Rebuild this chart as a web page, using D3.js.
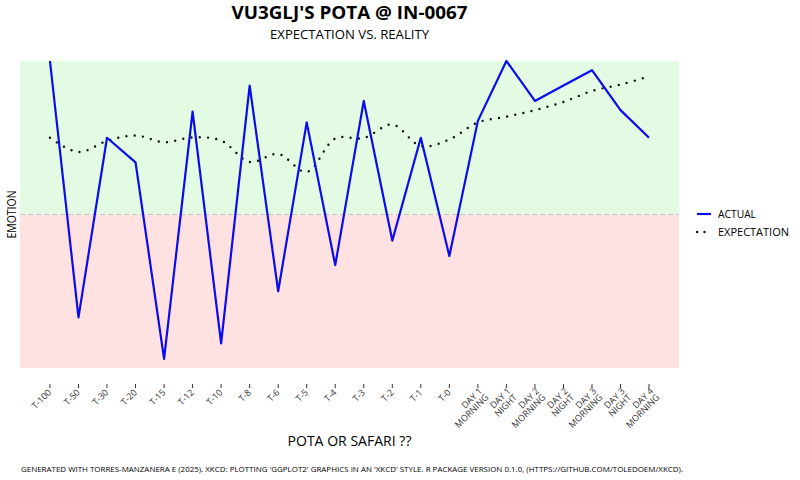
<!DOCTYPE html>
<html>
<head>
<meta charset="utf-8">
<script src="https://cdn.jsdelivr.net/npm/d3@7"></script>
<style>
  html, body { margin: 0; padding: 0; background: #ffffff; }
  svg { display: block; font-family: "Open Sans", "DejaVu Sans", sans-serif; }
</style>
</head>
<body>
<svg id="chart" width="800" height="480"></svg>
<script>
// ---- data ----
const categories = ["T-100","T-50","T-30","T-20","T-15","T-12","T-10","T-8","T-6","T-5","T-4","T-3","T-2","T-1","T-0",
  "DAY 1 MORNING","DAY 1 NIGHT","DAY 2 MORNING","DAY 2 NIGHT","DAY 3 MORNING","DAY 3 NIGHT","DAY 4 MORNING"];
const tickLabels = [["T-100"],["T-50"],["T-30"],["T-20"],["T-15"],["T-12"],["T-10"],["T-8"],["T-6"],["T-5"],["T-4"],["T-3"],["T-2"],["T-1"],["T-0"],
  ["DAY 1","MORNING"],["DAY 1","NIGHT"],["DAY 2","MORNING"],["DAY 2","NIGHT"],["DAY 3","MORNING"],["DAY 3","NIGHT"],["DAY 4","MORNING"]];
const actual = [10, -6.7, 5.0, 3.4, -9.4, 6.7, -8.4, 8.4, -5.0, 6.0, -3.3, 7.4, -1.7, 5.0, -2.7, 6.1, 10, 7.4, 8.4, 9.4, 6.8, 5.0];
const expectation = [5.0, 4.07, 4.79, 5.15, 4.71, 5.02, 4.82, 3.42, 3.94, 2.77, 4.95, 4.98, 5.86, 4.46, 4.89, 6.0, 6.37, 6.8, 7.33, 8.05, 8.46, 9.0];
const yDomain = [-10, 10];
const seriesNames = ["ACTUAL", "EXPECTATION"];
const title = "VU3GLJ'S POTA @ IN-0067";
const subtitle = "EXPECTATION VS. REALITY";
const xTitle = "POTA OR SAFARI ??";
const yTitle = "EMOTION";
const caption = "GENERATED WITH TORRES-MANZANERA E (2025). XKCD: PLOTTING 'GGPLOT2' GRAPHICS IN AN 'XKCD' STYLE. R PACKAGE VERSION 0.1.0, (HTTPS://GITHUB.COM/TOLEDOEM/XKCD).";

// ---- layout ----
const svg = d3.select("#chart");
const panel = {left: 20, right: 679, top: 61, bottom: 368};

const x = d3.scalePoint().domain(categories).range([panel.left, panel.right]).padding(1.05);
const y = d3.scaleLinear().domain(yDomain).range([panel.bottom, panel.top]);

// background zones
svg.append("rect")
  .attr("x", panel.left).attr("y", y(yDomain[1]))
  .attr("width", panel.right - panel.left).attr("height", y(0) - y(yDomain[1]))
  .attr("fill", "#e2fbe2");
svg.append("rect")
  .attr("x", panel.left).attr("y", y(0))
  .attr("width", panel.right - panel.left).attr("height", y(yDomain[0]) - y(0))
  .attr("fill", "#fee2e2");

// zero dashed line
svg.append("line")
  .attr("x1", panel.left).attr("x2", panel.right)
  .attr("y1", y(0)).attr("y2", y(0))
  .attr("stroke", "#c4c4c4").attr("stroke-width", 1.2)
  .attr("stroke-dasharray", "5,3");

// expectation (dotted, smoothed)
const expLine = d3.line()
  .x((d, i) => x(categories[i]))
  .y(d => y(d))
  .curve(d3.curveCatmullRom.alpha(0.5));
svg.append("path")
  .datum(expectation)
  .attr("d", expLine)
  .attr("fill", "none")
  .attr("stroke", "#111")
  .attr("stroke-width", 2.4)
  .attr("stroke-linecap", "round")
  .attr("stroke-dasharray", "0,8.3");

// actual line
const actLine = d3.line()
  .x((d, i) => x(categories[i]))
  .y(d => y(d));
svg.append("path")
  .datum(actual)
  .attr("d", actLine)
  .attr("fill", "none")
  .attr("stroke", "#0b0bf0")
  .attr("stroke-width", 2.2)
  .attr("stroke-linejoin", "round");

// x axis ticks
const ticks = svg.append("g");
categories.forEach((c, i) => {
  const tx = x(c);
  ticks.append("line")
    .attr("x1", tx).attr("x2", tx)
    .attr("y1", 384).attr("y2", 388)
    .attr("stroke", "#333").attr("stroke-width", 1);
  const lines = tickLabels[i];
  const g = ticks.append("g").attr("transform", `translate(${tx + 2},${393}) rotate(-45)`);
  const t = g.append("text")
    .attr("text-anchor", "end")
    .attr("font-size", 9)
    .attr("fill", "#333");
  if (lines.length === 1) {
    t.append("tspan").attr("x", 0).attr("y", 0).text(lines[0]);
  } else {
    t.append("tspan").attr("x", 3).attr("y", 1).text(lines[0]);
    t.append("tspan").attr("x", 3).attr("y", 10).text(lines[1]);
  }
});

// titles
svg.append("text")
  .attr("x", (panel.left + panel.right) / 2).attr("y", 19)
  .attr("text-anchor", "middle")
  .attr("font-size", 17).attr("font-weight", "bold").attr("fill", "#000")
  .attr("textLength", 236).attr("lengthAdjust", "spacingAndGlyphs")
  .text(title);
svg.append("text")
  .attr("x", (panel.left + panel.right) / 2).attr("y", 39)
  .attr("text-anchor", "middle")
  .attr("font-size", 12).attr("fill", "#000")
  .attr("textLength", 159).attr("lengthAdjust", "spacingAndGlyphs")
  .text(subtitle);

// axis titles
svg.append("text")
  .attr("x", (panel.left + panel.right) / 2).attr("y", 446)
  .attr("text-anchor", "middle")
  .attr("font-size", 14).attr("fill", "#000")
  .attr("textLength", 124).attr("lengthAdjust", "spacingAndGlyphs")
  .text(xTitle);
svg.append("text")
  .attr("transform", `translate(16,${y(0)}) rotate(-90)`)
  .attr("text-anchor", "middle")
  .attr("font-size", 13).attr("fill", "#000")
  .attr("textLength", 48).attr("lengthAdjust", "spacingAndGlyphs")
  .text(yTitle);

// legend
const lg = svg.append("g");
lg.append("line")
  .attr("x1", 697).attr("x2", 711).attr("y1", 214).attr("y2", 214)
  .attr("stroke", "#0b0bf0").attr("stroke-width", 2.2);
lg.append("line")
  .attr("x1", 697).attr("x2", 712).attr("y1", 232).attr("y2", 232)
  .attr("stroke", "#111").attr("stroke-width", 2.4)
  .attr("stroke-linecap", "round").attr("stroke-dasharray", "0,7.5");
lg.append("text").attr("x", 718).attr("y", 218).attr("font-size", 11).attr("fill", "#000")
  .attr("textLength", 38).attr("lengthAdjust", "spacingAndGlyphs").text(seriesNames[0]);
lg.append("text").attr("x", 718).attr("y", 236).attr("font-size", 11).attr("fill", "#000")
  .attr("textLength", 71).attr("lengthAdjust", "spacingAndGlyphs").text(seriesNames[1]);

// caption
svg.append("text")
  .attr("x", 21).attr("y", 472)
  .attr("font-size", 8).attr("fill", "#000")
  .attr("textLength", 662).attr("lengthAdjust", "spacingAndGlyphs")
  .text(caption);
</script>
</body>
</html>
